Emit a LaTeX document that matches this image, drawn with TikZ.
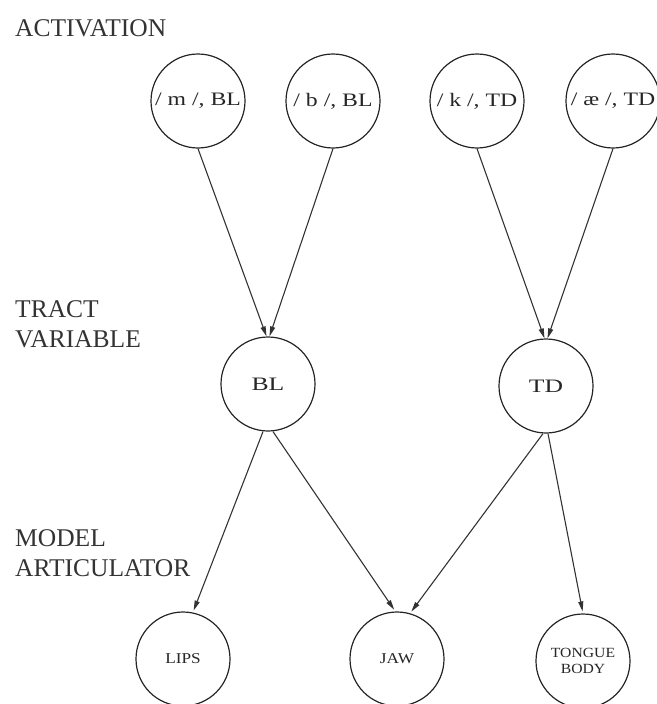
\documentclass[tikz,border=0pt]{standalone}
\usepackage{fontspec}
\setmainfont{Liberation Serif}
\usepackage{graphicx}
\usetikzlibrary{arrows.meta}
\tikzset{
  unit/.style={circle,draw=black!85,line width=1.2pt,minimum size=94pt,inner sep=0pt,text=black!85},
  conn/.style={draw=black!80,line width=1.1pt,-{Triangle[length=10pt,width=5pt]}},
  lev/.style={anchor=base west,inner sep=0pt,text=black!80,font=\fontsize{25.5}{30}\selectfont,align=left},
  top/.style={font=\fontsize{19}{22}\selectfont},
  low/.style={font=\fontsize{14}{18}\selectfont,align=center}
}
\newcommand{\wide}[2]{\scalebox{#1}[1]{#2}}
\begin{document}
\begin{tikzpicture}[x=1pt,y=-1pt]
\useasboundingbox (0,0) rectangle (656,704);
% level labels
\node[lev] (lact) at (15,36) {ACTIVATION};
\node[lev,anchor=north west] (ltract) at (15,300) {TRACT\\VARIABLE};
\node[lev,anchor=north west] (lmodel) at (15,529) {MODEL\\ARTICULATOR};
% activation nodes
\node[unit,top] (m) at (198,101) {\wide{1.25}{/ m /, BL}};
\node[unit,top] (b) at (333,101) {\wide{1.25}{/ b /, BL}};
\node[unit,top] (k) at (477,101) {\wide{1.25}{/ k /, TD}};
\node[unit,top] (ae) at (613,101) {\wide{1.25}{/ æ /, TD}};
% tract variables
\node[unit,top] (BL) at (268,384) {\wide{1.35}{BL}};
\node[unit,top] (TD) at (546,386) {\wide{1.35}{TD}};
% articulators
\node[unit,font=\fontsize{15}{18}\selectfont] (lips) at (183,659) {\wide{1.15}{LIPS}};
\node[unit,font=\fontsize{15}{18}\selectfont] (jaw) at (397,659) {\wide{1.15}{JAW}};
\node[unit,low] (tb) at (583,661) {\wide{1.12}{TONGUE}\\[-2pt]\wide{1.12}{BODY}};
% connectors
\draw[conn] (m.south) -- ([xshift=-1.5pt]BL.north);
\draw[conn] (b.south) -- ([xshift=1.5pt]BL.north);
\draw[conn] (k.south) -- ([xshift=-1.5pt]TD.north);
\draw[conn] (ae.south) -- ([xshift=1.5pt]TD.north);
\draw[conn,shorten >=2pt] ([xshift=-5pt]BL.south) -- (lips.78);
\draw[conn,shorten >=2pt] ([xshift=5pt]BL.south) -- (jaw.92);
\draw[conn,shorten >=2pt] ([xshift=-3pt]TD.south) -- (jaw.74);
\draw[conn,shorten >=2pt] ([xshift=2pt]TD.south) -- (tb.north);
\end{tikzpicture}
\end{document}
